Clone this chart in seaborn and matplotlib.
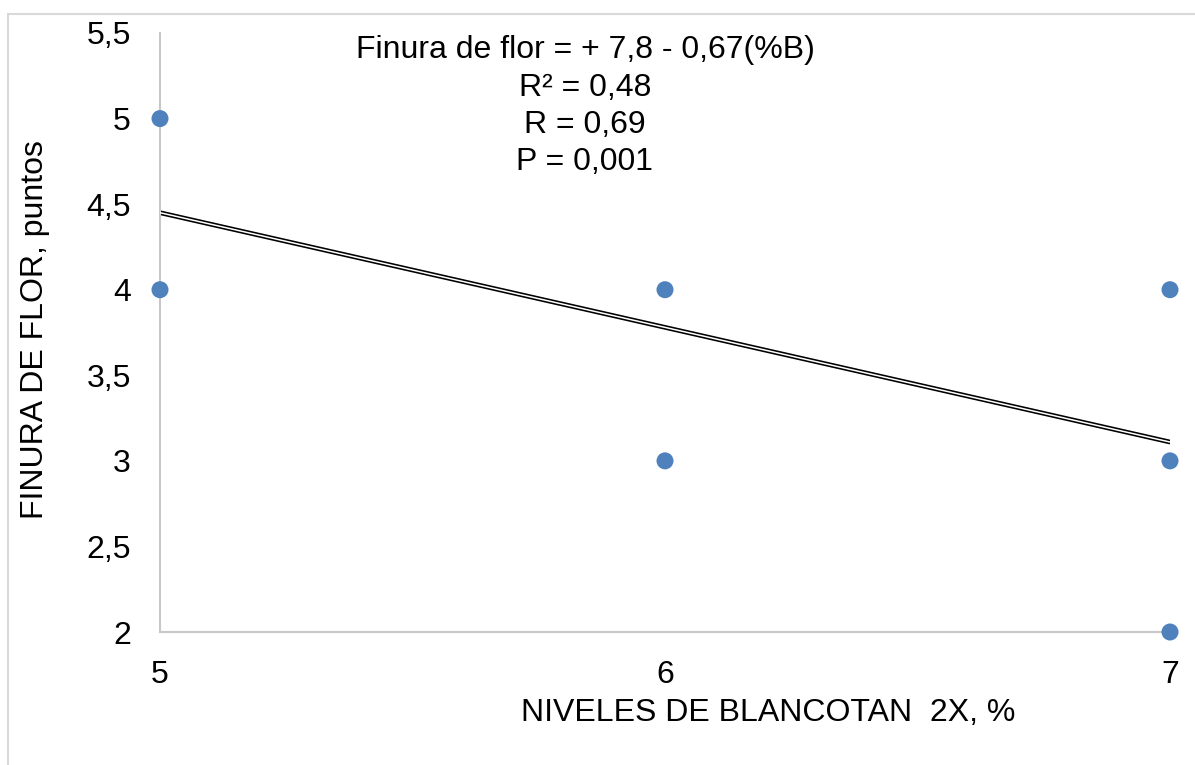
import matplotlib
matplotlib.use("Agg")
import matplotlib.pyplot as plt
import seaborn as sns
import pandas as pd
import numpy as np
from matplotlib.patches import Rectangle

# Observations: Blancotan 2X level (%) vs flower fineness score
niveles = [5, 5, 6, 6, 7, 7, 7]
finura = [5, 4, 4, 3, 4, 3, 2]

# Fitted regression: Finura = 7.8 - 0.67 * %B
intercepto = 7.8
pendiente = -0.67

ecuacion = ["Finura de flor = + 7,8 - 0,67(%B)", "R² = 0,48", "R = 0,69", "P = 0,001"]
x_ticks = [5, 6, 7]
y_ticks = [2, 2.5, 3, 3.5, 4, 4.5, 5, 5.5]

sns.set_theme(style="white")
plt.rcParams["font.family"] = ["Liberation Sans", "DejaVu Sans"]
plt.rcParams["text.color"] = "black"

fig = plt.figure(figsize=(11.95, 7.65), dpi=100)
ax = fig.add_axes([160 / 1195, 1 - 632 / 765, (1170 - 160) / 1195, (632 - 33) / 765])

df = pd.DataFrame({"nivel": niveles, "finura": finura})

# trend line drawn as a double line: dark outline with a white core
xs = np.array([5.0, 7.0])
fit = pd.DataFrame({"nivel": xs, "finura": intercepto + pendiente * xs})
sns.lineplot(data=fit, x="nivel", y="finura", ax=ax, color="black", linewidth=3.4, zorder=2)
sns.lineplot(data=fit, x="nivel", y="finura", ax=ax, color="white", linewidth=1.1, zorder=3)

sns.scatterplot(data=df, x="nivel", y="finura", ax=ax, color="#4f81bd",
                s=150, edgecolor="none", zorder=4, clip_on=False)

ax.set_xlim(5, 7)
ax.set_ylim(2, 5.5)
ax.set_xticks(x_ticks)
ax.set_xticklabels([str(v) for v in x_ticks])
ax.set_yticks(y_ticks)
ax.set_yticklabels([("%g" % v).replace(".", ",") for v in y_ticks])
ax.tick_params(axis="both", length=0, labelsize=23, colors="black")
ax.tick_params(axis="y", pad=21)
ax.tick_params(axis="x", pad=20)

for side in ["top", "right"]:
    ax.spines[side].set_visible(False)
for side in ["left", "bottom"]:
    ax.spines[side].set_color("#c8c8c8")
    ax.spines[side].set_linewidth(1.5)

ax.set_xlabel("")
ax.set_ylabel("")
fig.text(768 / 1195, 1 - 713 / 765, "NIVELES DE BLANCOTAN  2X, %", ha="center", va="center",
         fontsize=23, color="black")
fig.text(35 / 1195, 1 - 330 / 765, "FINURA DE FLOR, puntos", ha="center", va="center",
         rotation=90, fontsize=23, color="black")

ys = [50, 88, 125, 162]
for t, yy in zip(ecuacion, ys):
    fig.text(585 / 1195, 1 - yy / 765, t, ha="center", va="center", fontsize=23, color="black")

# outer chart frame
fig.patches.append(Rectangle((8 / 1195, -0.05), 1.2, 1 - 14 / 765 + 0.05,
                             transform=fig.transFigure, fill=False,
                             edgecolor="#d9d9d9", linewidth=1.5))

fig.savefig("out.png", dpi=100)
